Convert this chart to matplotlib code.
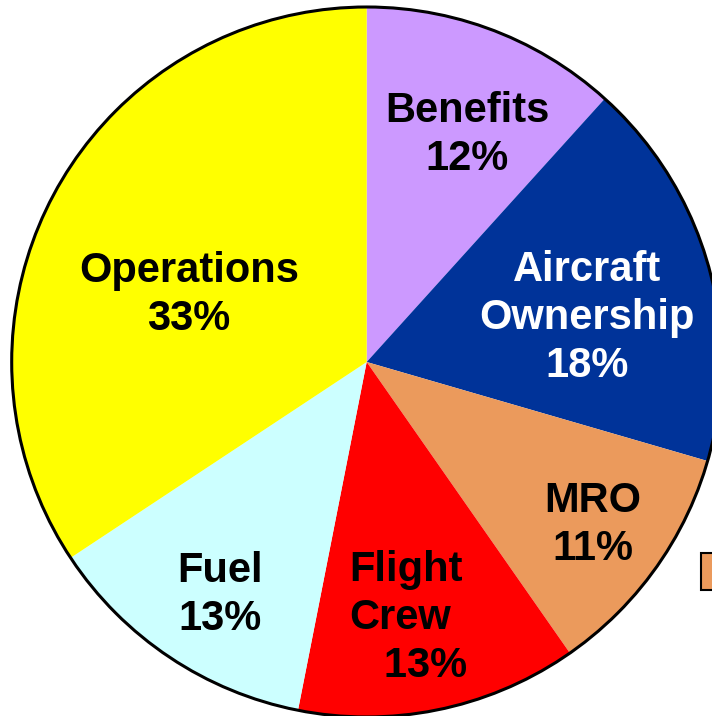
import matplotlib
matplotlib.use("Agg")
import matplotlib.pyplot as plt
from matplotlib.patches import Circle, Rectangle

# slice shares (labels show rounded values)
categories = ["Benefits", "Aircraft\nOwnership", "MRO", "Flight\nCrew", "Fuel", "Operations"]
shares = [11.7, 17.8, 10.8, 12.8, 12.6, 34.3]
pct_labels = ["12%", "18%", "11%", "   13%", "13%", "33%"]
colors = ["#CC99FF", "#003399", "#EB9A5C", "#FF0000", "#CCFFFF", "#FFFF00"]
text_colors = ["black", "white", "black", "black", "black", "black"]

W, H = 712, 716
CX, CY, R = 366.7, H - 362, 355

# label block anchors in pixel coords (x, y from top, horizontal alignment)
label_pos = [(467, 135, "center"), (587, 318, "center"), (593, 525, "center"),
             (349, 618, "left"), (220, 595, "center"), (189, 295, "center")]

fig = plt.figure(figsize=(W / 100, H / 100), dpi=100)
ax = fig.add_axes([0, 0, 1, 1])

ax.pie(shares, colors=colors, startangle=90, counterclock=False,
       center=(CX, CY), radius=R, wedgeprops=dict(linewidth=0),
       frame=True)
ax.set_xlim(0, W)
ax.set_ylim(0, H)
ax.set_aspect("equal")
ax.axis("off")
ax.add_patch(Circle((CX, CY), R, fill=False, edgecolor="black", linewidth=2.2, zorder=3))

for name, pct, (x, y, ha), tc in zip(categories, pct_labels, label_pos, text_colors):
    ax.text(x, H - y, f"{name}\n{pct}", ha=ha, va="center", multialignment=ha,
            fontsize=30, fontweight="bold", family="Liberation Sans",
            color=tc, linespacing=1.25, zorder=4)

# clipped legend swatch at the right edge
ax.add_patch(Rectangle((701, H - 590), 30, 37, facecolor="#EB9A5C",
                       edgecolor="black", linewidth=1.5, zorder=4))

fig.savefig("out.png", dpi=100)
